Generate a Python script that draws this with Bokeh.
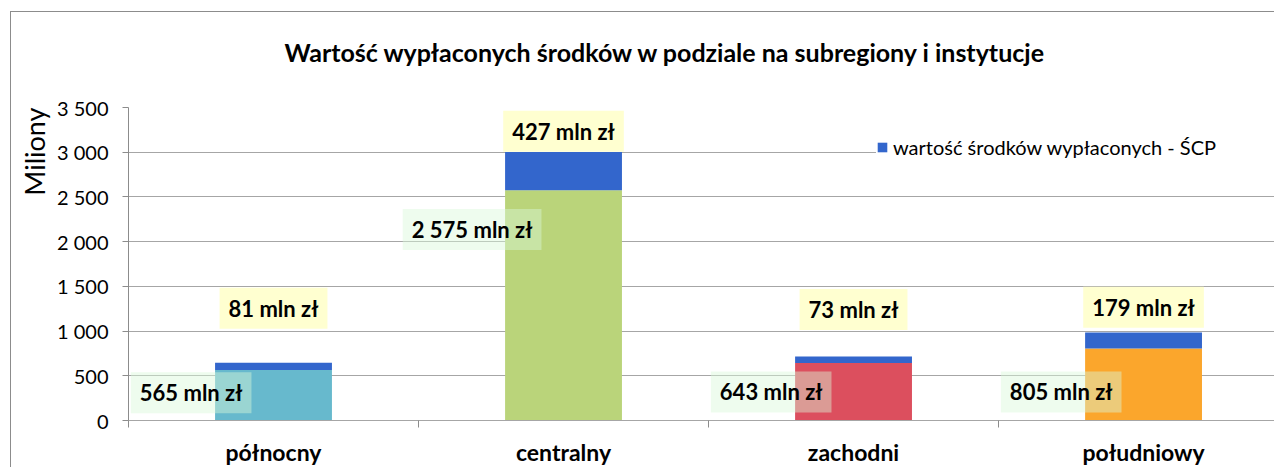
from bokeh.plotting import figure
from bokeh.models import Range1d, FixedTicker, Title, ColumnDataSource
from bokeh.core.properties import value
from bokeh.embed import file_html
from bokeh.resources import INLINE

# ---------------- data ----------------
title_text = "Wartość wypłaconych środków w podziale na subregiony i instytucje"
regions = ["północny", "centralny", "zachodni", "południowy"]
base_values = [565, 2575, 643, 805]          # mln zł (instytucje)
scp_values = [81, 427, 73, 179]              # mln zł – ŚCP
scp_name = "wartość środków wypłaconych - ŚCP"
y_ticks = [0, 500, 1000, 1500, 2000, 2500, 3000, 3500]

# ---------------- styling / layout ----------------
base_colors = ["#67B9CD", "#BAD47A", "#DC4F5E", "#FBA62C"]
scp_color = "#3366CC"
base_label_y = [310, 2135, 320, 320]         # vertical placement of data labels
scp_label_y = [1255, 3235, 1240, 1265]
FONT = "Lato"
GRID = "#A6A6A6"
AXIS = "#8C8C8C"

xs = [i + 0.5 for i in range(len(regions))]
totals = [b + s for b, s in zip(base_values, scp_values)]


def fmt(v):
    return f"{v:,}".replace(",", " ")


src = ColumnDataSource(dict(
    x=xs,
    base=base_values,
    total=totals,
    color=base_colors,
    base_lx=[x - 0.076 for x in xs],
    base_ly=base_label_y,
    base_txt=[fmt(v) + " mln zł" for v in base_values],
    scp_ly=scp_label_y,
    scp_txt=[fmt(v) + " mln zł" for v in scp_values],
))

p = figure(width=1264, height=456, output_backend="svg", toolbar_location=None,
           x_range=Range1d(0, 3.955), y_range=Range1d(0, 3500),
           min_border_left=117, min_border_right=0, min_border_top=95,
           min_border_bottom=0, title=None)
p.styles = {"margin-left": "10px", "margin-top": "11px",
            "border-left": f"1px solid {AXIS}", "border-top": f"1px solid {AXIS}"}
p.outline_line_color = None
p.background_fill_color = "white"
p.border_fill_color = "white"

# bars
p.vbar(x="x", bottom=0, top="base", width=0.403, fill_color="color",
       line_color=None, source=src)
p.vbar(x="x", bottom="base", top="total", width=0.403, fill_color=scp_color,
       line_color=None, source=src, legend_label=scp_name)

# data labels
p.text(x="base_lx", y="base_ly", text="base_txt", source=src,
       text_align="right", text_baseline="middle", text_font=value(FONT),
       text_font_size="22px", text_font_style="bold", text_color="#000000",
       background_fill_color="#D9F8D9", background_fill_alpha=0.45,
       padding=dict(left=9, right=9, top=7, bottom=7))
p.text(x="x", y="scp_ly", text="scp_txt", source=src,
       text_align="center", text_baseline="middle", text_font=value(FONT),
       text_font_size="22px", text_font_style="bold", text_color="#000000",
       background_fill_color="#FFFFD0", background_fill_alpha=1.0,
       padding=dict(left=9, right=9, top=7, bottom=7))

# axes
p.xgrid.visible = False
p.ygrid.grid_line_color = GRID
p.ygrid.grid_line_width = 1

p.yaxis.ticker = FixedTicker(ticks=y_ticks)
p.yaxis.major_label_overrides = {t: fmt(t) for t in y_ticks}
p.yaxis.major_tick_out = 6
p.yaxis.major_tick_in = 0
p.yaxis.minor_tick_out = 0
p.yaxis.minor_tick_in = 0
p.yaxis.axis_line_color = AXIS
p.yaxis.major_tick_line_color = AXIS
p.yaxis.major_label_standoff = 14
p.yaxis.major_label_text_font = FONT
p.yaxis.major_label_text_font_size = "20px"
p.yaxis.major_label_text_color = "#000000"

p.xaxis.ticker = FixedTicker(ticks=xs, minor_ticks=list(range(len(regions) + 1)))
p.xaxis.major_label_overrides = {x: r for x, r in zip(xs, regions)}
p.xaxis.major_tick_in = 0
p.xaxis.major_tick_out = 0
p.xaxis.minor_tick_in = 0
p.xaxis.minor_tick_out = 7
p.xaxis.minor_tick_line_color = AXIS
p.xaxis.axis_line_color = GRID
p.xaxis.major_label_standoff = 10
p.xaxis.major_label_text_font = FONT
p.xaxis.major_label_text_font_size = "23px"
p.xaxis.major_label_text_font_style = "bold"
p.xaxis.major_label_text_line_height = 1.0
p.xaxis.major_label_text_color = "#000000"

# titles
p.add_layout(Title(text=" ", text_font_size="10px", standoff=28), "above")
p.add_layout(Title(text=title_text, align="left", offset=156, standoff=0,
                   text_font=FONT, text_font_size="25px", text_font_style="bold",
                   text_color="#000000"), "above")
p.add_layout(Title(text="Miliony", align="right", offset=0, vertical_align="top",
                   standoff=2, text_font=FONT, text_font_size="27px",
                   text_font_style="normal", text_color="#000000"), "left")

# legend
lg = p.legend[0]
lg.location = (748, 261)
lg.padding = 25
lg.margin = 0
lg.spacing = 0
lg.border_line_color = None
lg.background_fill_color = "white"
lg.background_fill_alpha = 1.0
lg.glyph_width = 12
lg.glyph_height = 12
lg.label_width = 430
lg.label_standoff = 5
lg.label_text_font = FONT
lg.label_text_font_size = "20px"
lg.label_text_color = "#000000"

open("out.html", "w").write(file_html(p, INLINE))
